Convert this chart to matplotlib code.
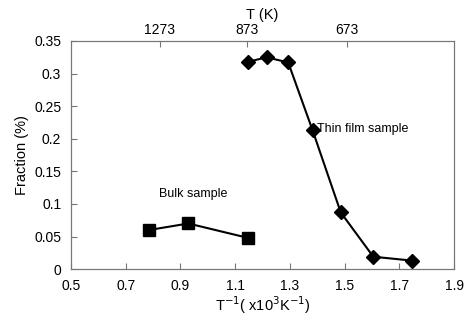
import matplotlib
matplotlib.use('Agg')
import matplotlib.pyplot as plt

plt.rcParams['font.family'] = ['Liberation Sans', 'DejaVu Sans']

# thin film sample: inverse temperature (x10^3 K^-1) vs fraction (%)
film_x = [1.148, 1.215, 1.294, 1.383, 1.486, 1.605, 1.748]
film_y = [0.318, 0.325, 0.317, 0.213, 0.087, 0.019, 0.013]

# bulk sample
bulk_x = [0.785, 0.929, 1.146]
bulk_y = [0.060, 0.070, 0.048]

# top axis temperature ticks
top_labels = ['1273', '873', '673']
top_pos = [0.825, 1.142, 1.508]

x_ticks = [0.5, 0.7, 0.9, 1.1, 1.3, 1.5, 1.7, 1.9]
y_ticks = [0, 0.05, 0.1, 0.15, 0.2, 0.25, 0.3, 0.35]

fig = plt.figure(figsize=(4.7, 3.2), dpi=100)
ax = fig.add_axes([0.151, 0.159, 0.815, 0.713])

ax.plot(film_x, film_y, color='black', lw=1.5, marker='D', ms=7)
ax.plot(bulk_x, bulk_y, color='black', lw=1.5, marker='s', ms=8.5)

ax.text(1.40, 0.215, 'Thin film sample', fontsize=9, va='center', ha='left')
ax.text(0.945, 0.115, 'Bulk sample', fontsize=9, va='center', ha='center')

ax.set_xlim(0.5, 1.9)
ax.set_ylim(0, 0.35)
ax.set_xticks(x_ticks)
ax.set_xticklabels([str(v) for v in x_ticks])
ax.set_yticks(y_ticks)
ax.set_yticklabels(['0', '0.05', '0.1', '0.15', '0.2', '0.25', '0.3', '0.35'])
ax.tick_params(direction='in', length=4, color='#777777', labelsize=10)
ax.tick_params(axis='x', pad=7)
ax.tick_params(axis='y', pad=7)
for s in ax.spines.values():
    s.set_color('#777777')
ax.set_ylabel('Fraction (%)', fontsize=10.5, labelpad=4)
ax.set_xlabel('T$^{-1}$( x10$^{3}$K$^{-1}$)', fontsize=10.5, labelpad=1)

top = ax.twiny()
top.set_xlim(ax.get_xlim())
top.set_xticks(top_pos)
top.set_xticklabels(top_labels)
top.tick_params(direction='in', length=4, color='#777777', labelsize=10, pad=3)
for s in top.spines.values():
    s.set_color('#777777')
top.set_xlabel('T (K)', fontsize=10.5, labelpad=3)

fig.savefig('out.png', dpi=100)
